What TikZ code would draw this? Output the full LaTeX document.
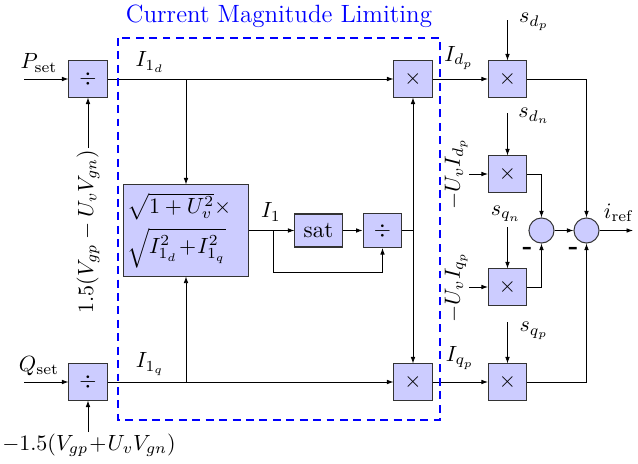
\documentclass[tikz,border=0pt]{standalone}
\usetikzlibrary{arrows.meta}
\definecolor{blockfill}{RGB}{204,204,255}
\begin{document}
\begin{tikzpicture}[x=0.4545pt,y=-0.4545pt,
  >={Latex[length=2.95pt,width=2.1pt]},
  line width=0.36pt,
  blk/.style={draw=black!80, line width=0.46pt, fill=blockfill, minimum width=17.3pt, minimum height=16.4pt, inner sep=0pt},
  sumc/.style={draw=black!80, line width=0.46pt, fill=blockfill, circle, minimum size=11.4pt, inner sep=0pt},
  lbl/.style={inner sep=0.5pt},
  minus/.style={inner sep=0pt, font=\fontsize{12}{14}\selectfont\bfseries},
  limitbox/.style={draw=blue, line width=1pt, dash pattern=on 3.6pt off 2.5pt},
]
\useasboundingbox (0,0) rectangle (638,464);

% blocks
\node[blk] (pdiv) at (88,79) {$\div$};
\node[blk] (qdiv) at (88,382) {$\div$};
\node[blk] (m1) at (413,79) {$\times$};
\node[blk] (m2) at (413,382) {$\times$};
\node[blk, minimum width=56.4pt, minimum height=41.4pt, align=left, text width=53.6pt, inner xsep=1.4pt] (sq) at (186,230.5)
  {$\sqrt{1+U_v^2}\times$\\[2.5pt]$\sqrt{I_{1_d}^2\!+\!I_{1_q}^2}$};
\node[blk, minimum width=21.4pt, minimum height=15pt, font=\fontsize{10.5}{12}\selectfont] (sat) at (318.5,230.5) {sat};
\node[blk, minimum width=17.7pt, minimum height=15.5pt] (dv) at (382.5,230.5) {$\div$};
\node[blk] (sdp) at (507.5,79) {$\times$};
\node[blk] (sdn) at (507.5,174) {$\times$};
\node[blk] (sqn) at (507.5,287) {$\times$};
\node[blk] (sqp) at (507.5,382) {$\times$};
\node[sumc] (c1) at (541.5,230.5) {};
\node[sumc] (c2) at (586.5,230.5) {};

% coordinates
\coordinate (pin) at (24,79);
\coordinate (qin) at (24,382);
\coordinate (j1) at (186,79);
\coordinate (j2) at (186,382);
\coordinate (b1) at (273,230.5);
\coordinate (b2) at (273,272);
\coordinate (j3) at (413,230.5);
\coordinate (sdpin) at (507.5,20);
\coordinate (sdnin) at (507.5,113);
\coordinate (sqnin) at (507.5,227);
\coordinate (sqpin) at (507.5,322);
\coordinate (dnin) at (469,174);
\coordinate (qnin) at (469,287);
\coordinate (out) at (633,230.5);

% input labels
\node[lbl, rotate=90, anchor=east] (vp) at (88,148) {$1.5(V_{gp}-U_vV_{gn})$};
\node[lbl, anchor=north] (vq) at (89,432) {$-1.5(V_{gp}\!+\!U_vV_{gn})$};
\node[lbl, rotate=90, anchor=south] (ld) at (dnin) {$-U_vI_{d_p}$};
\node[lbl, rotate=90, anchor=south] (lq) at (qnin) {$-U_vI_{q_p}$};

% connectors
\draw[->] (pin) -- (pdiv);
\draw[->] (qin) -- (qdiv);
\draw[->] (vp.east) -- (pdiv);
\draw[->] (vq.north -| qdiv) -- (qdiv);
\draw[->] (pdiv) -- (m1);
\draw[->] (qdiv) -- (m2);
\draw[->] (j1) -- (sq);
\draw[->] (j2) -- (sq);
\draw[->] (sq) -- (sat);
\draw[->] (b1) -- (b2) -| (dv);
\draw[->] (sat) -- (dv);
\draw (dv) -- (j3);
\draw[->] (j3) -- (m1);
\draw[->] (j3) -- (m2);
\draw[->] (m1) -- (sdp);
\draw[->] (m2) -- (sqp);
\draw[->] (sdpin) -- (sdp);
\draw[->] (sdnin) -- (sdn);
\draw[->] (sqnin) -- (sqn);
\draw[->] (sqpin) -- (sqp);
\draw[->] (dnin) -- (sdn);
\draw[->] (qnin) -- (sqn);
\draw[->] (sdp) -| (c2);
\draw[->] (sqp) -| (c2);
\draw[->] (sdn) -| (c1);
\draw[->] (sqn) -| (c1);
\draw[->] (c1) -- (c2);
\draw[->] (c2) -- (out);

% labels
\node[lbl] (lP) at (39,63) {$P_{\mathrm{set}}$};
\node[lbl] (lQ) at (39,366) {$Q_{\mathrm{set}}$};
\node[lbl] (l1d) at (150,62) {$I_{1_d}$};
\node[lbl] (l1q) at (150,364) {$I_{1_q}$};
\node[lbl] (l1) at (271,212) {$I_1$};
\node[lbl] (ldp) at (459,58) {$I_{d_p}$};
\node[lbl] (lqp) at (460,358) {$I_{q_p}$};
\node[lbl] (lsdp) at (534,22) {$s_{d_p}$};
\node[lbl] (lsdn) at (534,116) {$s_{d_n}$};
\node[lbl] (lsqn) at (506,214) {$s_{q_n}$};
\node[lbl] (lsqp) at (534,331) {$s_{q_p}$};
\node[lbl] (lref) at (619,213) {$i_{\mathrm{ref}}$};
\node[minus] (mn1) at (527.5,250.5) {-};
\node[minus] (mn2) at (573.5,250.5) {-};

% limiting box
\draw[limitbox] (118,38) rectangle (440,420);
\node[text=blue, font=\fontsize{11.35}{13}\selectfont] (title) at (279,16) {Current Magnitude Limiting};
\end{tikzpicture}
\end{document}
